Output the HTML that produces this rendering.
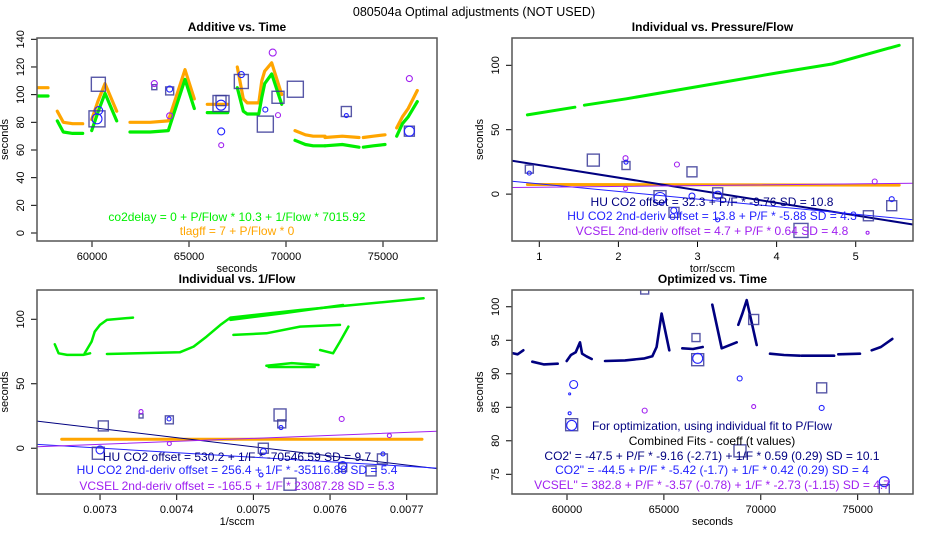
<!DOCTYPE html>
<html><head><meta charset="utf-8"><style>
html,body{margin:0;padding:0;background:#fff;}
svg{display:block;font-family:"Liberation Sans",sans-serif;}
</style></head><body>
<svg id="chart" width="950" height="550" viewBox="0 0 950 550">
<rect width="950" height="550" fill="#fff"/>
<text x="474" y="16" text-anchor="middle" font-size="12.5" fill="#000">080504a   Optimal adjustments (NOT USED)</text>
</svg>
<script>
// ---- Panel 1: Additive vs Time ----
const p1Times = [[57165,57450,57730],[58211,58522,59000,59521],[59983,60300,60670,61273],[61959,63000,63933,64794,65274],[65944,66500,66995],[67490,67800,68000,68600,68750,68900,69262,69778],[70465,71000,71400,72012],[72012,72900,73765],[73985,74500,75104],[75705,76000,76300,76769]];
const p1Green = [[99,99,99],[81,73,72,72],[74,87,101,81],[73,73,74,111,90],[87,87,87],[105,88,86,86,98,108,115,93],[67,64,63,63],[63,64,62],[62,63,64],[70,79,84,95]];
const p1Orange = [[105,105,105],[88,80,79,79],[82,95,108,88],[80,80,81,118,97],[93,93,93],[120,97,94,94,110,117,123,100],[74,71,70,70],[69,70,69],[69,70,71],[76,84,90,103]];
const p1SqX = [60327,60258,63212,64003,66650,66650,67697,68934,69588,70481,73110,76358];
const p1SqY = [107.5,82.5,105.4,102.7,93.6,95.7,109.5,78.7,98.1,103.9,87.8,73.6];
const p1SqS = [7,8,2.5,4,8,5,7,8,6,8,5,5];
const p1CiX = [60258,60344,63212,64003,64003,66650,66660,66660,67697,69314,68934,69588,76358,76358,73110];
const p1CiY = [82.5,88.5,108,104,84.7,92.4,73.4,63.5,114.5,130.4,89.2,85.2,111.6,73.6,84.9];
const p1CiR = [5,4,3,3,3,5,3.5,2.5,3,3.5,2.5,2.5,3,5,2];
const p1CiC = ["b","b","p","b","p","b","b","p","b","p","b","p","p","b","b"];
const p1Yticks = [0,20,40,60,80,100,120,140];
const p1Xticks = [60000,65000,70000,75000];

// ---- Panel 2: Individual vs Pressure/Flow ----
const p2GreenX = [[0.85,1.45],[1.57,2.1,3,4,4.7,5.55]];
const p2GreenY = [[61.5,67.5],[69,74,83.5,94,101,115.5]];
const p2OrangeX = [0.85,5.55];
const p2OrangeY = [7.5,7];
const p2SqX = [0.874,1.683,2.096,2.93,2.526,2.703,3.255,4.308,5.16,5.455];
const p2SqY = [19.4,26.4,22.2,17.3,-2,-14.2,1,-28.2,-16.8,-9];
const p2SqS = [4,6,4,5,6,5,5,7,5,5];
const p2CiX = [2.09,2.74,5.24,5.455,2.93,3.255,2.526,0.874,2.096,2.09,2.7,3.255,5.15];
const p2CiY = [27.9,23,9.8,-3.9,-1.5,-0.8,-3.4,16.3,24.8,4.1,-12.7,-20,-30];
const p2CiR = [2.5,2.5,2.5,2.5,3,4,6,2,2,2,3,2,1.5];
const p2CiC = ["p","p","p","b","b","b","b","b","b","p","b","b","p"];
const p2Fits = [[32.3,-9.76],[13.8,-5.88],[4.7,0.64]];
const p2Yticks = [0,50,100];
const p2Xticks = [1,2,3,4,5];

// ---- Panel 3: Individual vs 1/Flow ----
const p3GreenX = [[0.007241,0.007246,0.007257,0.007278,0.007287],[0.00728,0.007289,0.007293,0.0073,0.007309,0.007343],[0.007309,0.007404,0.007422,0.007439,0.007457,0.00747,0.007561,0.007722],[0.007474,0.007517,0.007561,0.007613],[0.00747,0.007539,0.007617],[0.007517,0.00755,0.007585],[0.00752,0.00758],[0.007587,0.007604,0.007613,0.007624]];
const p3GreenY = [[80.6,73.6,72.4,72.4,73.6],[73.6,82.7,90.4,95.6,99.5,101.3],[73.1,74.4,78.8,86.6,95.6,101.3,107.2,116.3],[87.9,89.1,94.3,95.6],[99.5,104.7,111.1],[64,66,64.5],[63,63],[76.2,73.6,82.7,94.3]];
const p3OrangeX = [0.00725,0.00772];
const p3OrangeY = [7,7];
const p3SqX = [0.0073043,0.0072978,0.0073904,0.0073535,0.0075348,0.007537,0.007513,0.0075478,0.0076683,0.0076535,0.0076165];
const p3SqY = [17.3,-3.9,22,25,25.8,18.9,0,-27.9,-8.3,-17.6,-15];
const p3SqS = [5,6,4,2,6,4,5,6,5,5,4];
const p3CiX = [0.0073535,0.0073904,0.0076152,0.0076774,0.007536,0.007669,0.0073,0.007513,0.00739,0.0076165,0.00751];
const p3CiY = [28.4,3.6,22.7,9.8,16,-4.4,-1.3,-2.6,22.7,-13.4,-20.7];
const p3CiR = [2,2,2.5,2,2,2,4,3,2,4,2];
const p3CiC = ["p","p","p","p","b","b","b","b","b","b","b"];
const p3Fits = [[530.2,-70546.59],[256.4,-35116.88],[-165.5,23087.28]];
const p3Yticks = [0,50,100];
const p3Xticks = [0.0073,0.0074,0.0075,0.0076,0.0077];

// ---- Panel 4: Optimized vs Time ----
const p4Times = [[57147,57450,57745],[58210,58800,59520],[59983,60200,60450,60672,60780,61000,61274],[61961,63000,64000,64400,64622,64880,65279],[65950,66500,67002],[67497,67982,68756],[68840,69050,69272,69788],[70475,71200,72023],[72111,73000,73781],[74000,75119],[75722,76200,76786]];
const p4Values = [[93.1,92.9,93.5],[91.8,91.4,91.5],[91.9,92.8,93.2,94.7,93,92.6,92.2],[91.9,92,92.3,92.6,94,99,93.5],[93.8,93.7,94],[100.3,93.8,94.7],[97.3,99,101,94.3],[93,92.8,92.7],[92.7,92.7,92.7],[92.9,93],[93.5,94,95.2]];
const p4SqX = [64009,66656,66744,73142,69633,60241,68927,76374];
const p4SqY = [102.5,95.4,92.1,87.9,98.1,82.4,78.5,72.7];
const p4SqS = [4,4,6,5,5,6,6,5];
const p4CiX = [60344,68911,73142,64009,69633,76374,66744,60241,60137,60137];
const p4CiY = [88.4,89.3,84.9,84.5,85.1,73.9,92.3,82.3,84.1,87];
const p4CiR = [4,2.5,2.5,2.5,2,5,5,5,1.5,1];
const p4CiC = ["b","b","b","p","p","b","b","b","b","b"];
const p4Yticks = [75,80,85,90,95,100];
const p4Xticks = [60000,65000,70000,75000];

const NS = "http://www.w3.org/2000/svg";
const svg = document.getElementById("chart");
const COL = {g:"#00ee00", o:"#ffa500", n:"#000080", b:"#2222ff", p:"#a020f0", sq:"#3a3a98"};

function mk(tag, attrs, parent) {
  const e = document.createElementNS(NS, tag);
  for (const k in attrs) e.setAttribute(k, attrs[k]);
  (parent || svg).appendChild(e);
  return e;
}
function fmtTick(v) { return String(v); }

function panel(cfg) {
  const g = mk("g", {});
  
  
  const [L, T, R, B] = cfg.box;
  const sx = v => L + (v - cfg.xd[0]) / (cfg.xd[1] - cfg.xd[0]) * (R - L);
  const sy = v => B - (v - cfg.yd[0]) / (cfg.yd[1] - cfg.yd[0]) * (B - T);
  const clipId = "clip-" + cfg.name;
  const cp = mk("clipPath", {id: clipId}, g);
  mk("rect", {x: L, y: T, width: R - L, height: B - T}, cp);
  const plot = mk("g", {"clip-path": "url(#" + clipId + ")"}, g);
  
  
  const t = mk("text", {x: (L + R) / 2, y: T - 7, "text-anchor": "middle", "font-size": 12, "font-weight": "bold"}, g);
  t.textContent = cfg.title;
  
  
  cfg.xt.forEach(v => {
    const x = sx(v);
    mk("line", {x1: x, x2: x, y1: B, y2: B + 6, stroke: "#000", "stroke-width": 1}, g);
    const lb = mk("text", {x: x, y: B + 19, "text-anchor": "middle", "font-size": 11}, g);
    lb.textContent = cfg.xfmt ? cfg.xfmt(v) : fmtTick(v);
    
    
  });
  mk("line", {x1: sx(cfg.xt[0]), x2: sx(cfg.xt[cfg.xt.length - 1]), y1: B, y2: B, stroke: "#000"}, g);
  const xt = mk("text", {x: (L + R) / 2, y: B + 31, "text-anchor": "middle", "font-size": 11}, g);
  xt.textContent = cfg.xlab;
  
  
  cfg.yt.forEach(v => {
    const y = sy(v);
    mk("line", {x1: L - 6, x2: L, y1: y, y2: y, stroke: "#000"}, g);
    const lx = L - 13;
    const lb = mk("text", {x: lx, y: y, "text-anchor": "middle", "font-size": 11, transform: "rotate(-90 " + lx + " " + y + ")"}, g);
    lb.textContent = fmtTick(v);
    
    
  });
  mk("line", {x1: L, x2: L, y1: sy(cfg.yt[0]), y2: sy(cfg.yt[cfg.yt.length - 1]), stroke: "#000"}, g);
  const yx = L - 29, yy = (T + B) / 2;
  const yl = mk("text", {x: yx, y: yy, "text-anchor": "middle", "font-size": 11, transform: "rotate(-90 " + yx + " " + yy + ")"}, g);
  yl.textContent = "seconds";
  
  
  const bx = mk("rect", {x: L, y: T, width: R - L, height: B - T, fill: "none", stroke: "#555", "stroke-width": 1.5}, g);
  
  
  return {sx, sy, plot, g};
}

function poly(P, xs, ys, color, w, name) {
  const pts = xs.map((x, i) => P.sx(x).toFixed(1) + "," + P.sy(ys[i]).toFixed(1)).join(" ");
  const e = mk("polyline", {points: pts, fill: "none", stroke: color, "stroke-width": w, "stroke-linejoin": "round", "stroke-linecap": "round"}, P.plot);
  
  
  return e;
}
function squares(P, xs, ys, ss) {
  xs.forEach((x, i) => {
    const s = ss[i];
    const e = mk("rect", {x: P.sx(x) - s, y: P.sy(ys[i]) - s, width: 2 * s, height: 2 * s, fill: "none", stroke: COL.sq, "stroke-width": 1.4, opacity: 0.85}, P.plot);
    
    
  });
}
function circles(P, xs, ys, rs, cs) {
  xs.forEach((x, i) => {
    const e = mk("circle", {cx: P.sx(x), cy: P.sy(ys[i]), r: rs[i], fill: "none", stroke: COL[cs[i]], "stroke-width": 1.1}, P.plot);
    
    
  });
}
function fitLine(P, xd, fit, color, w, name) {
  const xs = [xd[0], xd[1]];
  const ys = xs.map(x => fit[0] + fit[1] * x);
  poly(P, xs, ys, color, w, name);
}
function label(x, y, txt, color, name) {
  const e = mk("text", {x: x, y: y, "text-anchor": "middle", "font-size": 12, fill: color});
  e.textContent = txt;
  
  
}

const P1 = panel({name: "panel-additive-vs-time", title: "Additive vs. Time", box: [37, 38, 437, 241], xd: [57165, 77783], yd: [-5.78, 140.94], xt: p1Xticks, yt: p1Yticks, xlab: "seconds"});
p1Times.forEach((ts, i) => { poly(P1, ts, p1Orange[i], COL.o, 3.2, "tlagff-line"); });
p1Times.forEach((ts, i) => { poly(P1, ts, p1Green[i], COL.g, 3.2, "co2delay-line"); });
squares(P1, p1SqX, p1SqY, p1SqS);
circles(P1, p1CiX, p1CiY, p1CiR, p1CiC);
label(237, 221, "co2delay = 0 + P/Flow * 10.3 + 1/Flow * 7015.92", COL.g, "co2delay-equation");
label(237, 235, "tlagff = 7 + P/Flow * 0", COL.o, "tlagff-equation");

const p2xd = [0.655, 5.724];
const P2 = panel({name: "panel-individual-vs-pressure-flow", title: "Individual vs. Pressure/Flow", box: [512, 38, 913, 241], xd: p2xd, yd: [-36.4, 121.2], xt: p2Xticks, yt: p2Yticks, xlab: "torr/sccm"});
p2GreenX.forEach((xs, i) => { poly(P2, xs, p2GreenY[i], COL.g, 3, "individual-green-band"); });
poly(P2, p2OrangeX, p2OrangeY, COL.o, 3, "orange-band");
fitLine(P2, p2xd, p2Fits[0], COL.n, 2, "hu-co2-fit-line");
fitLine(P2, p2xd, p2Fits[1], COL.b, 1, "hu-co2-2nd-deriv-fit-line");
fitLine(P2, p2xd, p2Fits[2], COL.p, 1, "vcsel-2nd-deriv-fit-line");
squares(P2, p2SqX, p2SqY, p2SqS);
circles(P2, p2CiX, p2CiY, p2CiR, p2CiC);
label(712, 206, "HU CO2 offset = 32.3 + P/F * -9.76  SD = 10.8", COL.n, "hu-co2-equation");
label(712, 220, "HU CO2 2nd-deriv offset = 13.8 + P/F * -5.88  SD = 4.3", COL.b, "hu-co2-2nd-equation");
label(712, 235, "VCSEL 2nd-deriv offset = 4.7 + P/F * 0.64  SD = 4.8", COL.p, "vcsel-equation");

const p3xd = [0.0072178, 0.0077395];
const P3 = panel({name: "panel-individual-vs-inverse-flow", title: "Individual vs. 1/Flow", box: [37, 290, 437, 494], xd: p3xd, yd: [-35.5, 122.7], xt: p3Xticks, yt: p3Yticks, xlab: "1/sccm", xfmt: v => v.toFixed(4)});
poly(P3, p3OrangeX, p3OrangeY, COL.o, 3, "orange-band");
p3GreenX.forEach((xs, i) => { poly(P3, xs, p3GreenY[i], COL.g, 2.5, "individual-green-scatter"); });
fitLine(P3, p3xd, p3Fits[0], COL.n, 1, "hu-co2-fit-line");
fitLine(P3, p3xd, p3Fits[1], COL.b, 1, "hu-co2-2nd-deriv-fit-line");
fitLine(P3, p3xd, p3Fits[2], COL.p, 1, "vcsel-2nd-deriv-fit-line");
squares(P3, p3SqX, p3SqY, p3SqS);
circles(P3, p3CiX, p3CiY, p3CiR, p3CiC);
label(237, 461, "HU CO2 offset = 530.2 + 1/F * -70546.59  SD = 9.7", COL.n, "hu-co2-equation");
label(237, 474, "HU CO2 2nd-deriv offset = 256.4 + 1/F * -35116.88  SD = 5.4", COL.b, "hu-co2-2nd-equation");
label(237, 490, "VCSEL 2nd-deriv offset = -165.5 + 1/F * 23087.28  SD = 5.3", COL.p, "vcsel-equation");

const P4 = panel({name: "panel-optimized-vs-time", title: "Optimized vs. Time", box: [512, 290, 913, 494], xd: [57162, 77855], yd: [72.06, 102.5], xt: p4Xticks, yt: p4Yticks, xlab: "seconds"});
p4Times.forEach((ts, i) => { poly(P4, ts, p4Values[i], COL.n, 2.6, "optimized-line"); });
squares(P4, p4SqX, p4SqY, p4SqS);
circles(P4, p4CiX, p4CiY, p4CiR, p4CiC);
label(712, 430, "For optimization, using individual fit to P/Flow", COL.n, "optimization-note");
label(712, 445, "Combined Fits - coeff (t values)", "#000", "combined-fits-heading");
label(712, 460, "CO2' = -47.5 + P/F * -9.16 (-2.71) + 1/F * 0.59 (0.29)  SD = 10.1", COL.n, "co2-combined-equation");
label(712, 474, "CO2\" = -44.5 + P/F * -5.42 (-1.7) + 1/F * 0.42 (0.29)  SD = 4", COL.b, "co2-2nd-combined-equation");
label(712, 489, "VCSEL\" = 382.8 + P/F * -3.57 (-0.78) + 1/F * -2.73 (-1.15)  SD = 4.7", COL.p, "vcsel-combined-equation");
</script>
</body></html>
